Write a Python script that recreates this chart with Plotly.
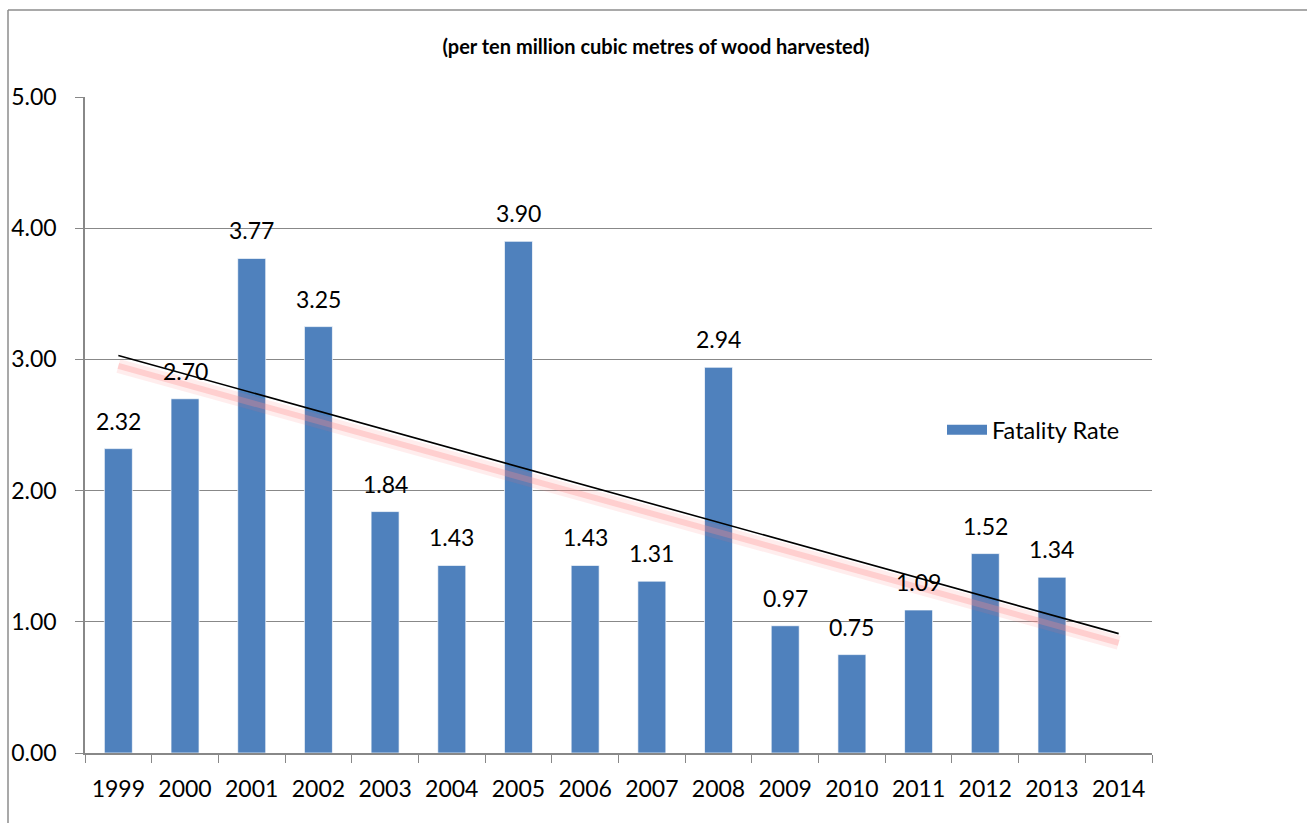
import plotly.graph_objects as go

years = ["1999", "2000", "2001", "2002", "2003", "2004", "2005", "2006",
         "2007", "2008", "2009", "2010", "2011", "2012", "2013", "2014"]
bar_years = years[:15]
fatality_rate = [2.32, 2.70, 3.77, 3.25, 1.84, 1.43, 3.90, 1.43,
                 1.31, 2.94, 0.97, 0.75, 1.09, 1.52, 1.34]
trend_x = ["1999", "2014"]
trend_y = [3.03, 0.91]
trend_shadow_y = [2.95, 0.84]
y_ticks = [0, 1, 2, 3, 4, 5]
y_tick_labels = ["0.00", "1.00", "2.00", "3.00", "4.00", "5.00"]

FONT = "Lato, Carlito, Calibri, sans-serif"
BLUE = "#4F81BD"
GRID = "#888888"

fig = go.Figure()

fig.add_trace(go.Bar(
    x=bar_years, y=fatality_rate, width=0.42,
    marker=dict(color=BLUE, line=dict(color="rgba(255,255,255,0.7)", width=1)),
    showlegend=False, hoverinfo="x+y",
))

# shadow-like glow of trend line
fig.add_trace(go.Scatter(x=trend_x, y=trend_shadow_y, mode="lines",
                         line=dict(color="rgba(255,110,110,0.12)", width=14),
                         showlegend=False, hoverinfo="skip"))
fig.add_trace(go.Scatter(x=trend_x, y=trend_shadow_y, mode="lines",
                         line=dict(color="rgba(255,140,140,0.3)", width=6),
                         showlegend=False, hoverinfo="skip"))
fig.add_trace(go.Scatter(x=trend_x, y=trend_y, mode="lines",
                         line=dict(color="black", width=1.6),
                         showlegend=False, hoverinfo="skip"))

# legend entry
fig.add_trace(go.Scatter(x=[None], y=[None], mode="lines",
                         line=dict(color=BLUE, width=11),
                         name="Fatality Rate", showlegend=True))

for i, v in enumerate(fatality_rate):
    fig.add_annotation(x=i, y=v, xref="x", yref="y", text=f"{v:.2f}", showarrow=False,
                       yanchor="bottom", yshift=12,
                       font=dict(family=FONT, size=23, color="black"))

fig.update_layout(
    width=1307, height=823,
    margin=dict(l=85, r=155, t=97, b=70),
    paper_bgcolor="white", plot_bgcolor="white",
    font=dict(family=FONT, size=23, color="black"),
    title=dict(text="<b>(per ten million cubic metres of wood harvested)</b>",
               x=656 / 1307, xanchor="center", y=1 - 47 / 823, yanchor="middle",
               xref="container", yref="container",
               font=dict(family=FONT, size=20, color="black")),
    legend=dict(x=(942 - 85) / 1067, y=(753 - 430) / 656, xanchor="left", yanchor="middle",
                bgcolor="rgba(0,0,0,0)", font=dict(family=FONT, size=23.5),
                itemwidth=40),
    xaxis=dict(type="category", categoryorder="array", categoryarray=years,
               range=[-0.5, 15.5], tickson="boundaries", ticks="outside",
               ticklen=8, tickcolor=GRID, showline=True, linecolor=GRID,
               linewidth=1.5, showgrid=False, tickfont=dict(size=23),
               ticklabelstandoff=15),
    yaxis=dict(range=[0, 5], tickvals=y_ticks, ticktext=y_tick_labels,
               ticks="outside", ticklen=8, tickcolor=GRID, showline=True,
               linecolor=GRID, linewidth=1.5, gridcolor=GRID, gridwidth=1,
               zeroline=False, tickfont=dict(size=23), ticklabelstandoff=14),
)

# outer chart border (top and left visible)
fig.add_shape(type="line", xref="paper", yref="paper", xsizemode="pixel", ysizemode="pixel",
              xanchor=0, yanchor=1, x0=-77, x1=1230, y0=87, y1=87,
              line=dict(color="#8c8c8c", width=1.5))
fig.add_shape(type="line", xref="paper", yref="paper", xsizemode="pixel", ysizemode="pixel",
              xanchor=0, yanchor=1, x0=-77, x1=-77, y0=87, y1=-740,
              line=dict(color="#8c8c8c", width=1.5))

fig.write_html("out.html", config={"displayModeBar": False},
               post_script="document.body.style.margin='0';document.body.style.overflow='hidden';")
